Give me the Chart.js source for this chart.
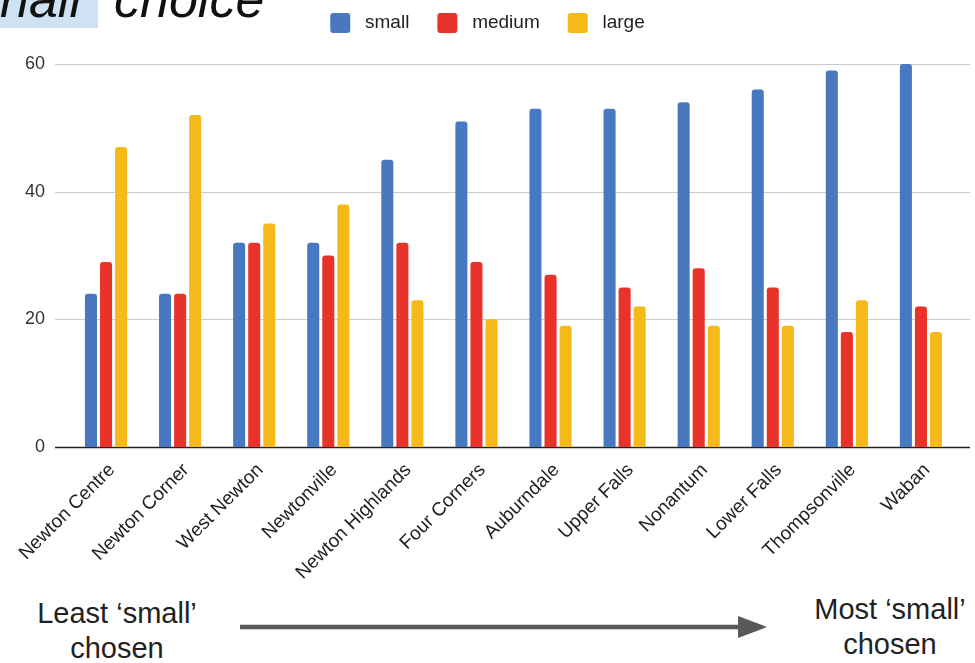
<!DOCTYPE html>
<html>
<head>
<meta charset="utf-8">
<script src="https://cdn.jsdelivr.net/npm/chart.js@4"></script>
<style>
  html, body { margin: 0; padding: 0; background: #fff; }
  body { width: 975px; height: 663px; position: relative; overflow: hidden; font-family: "Liberation Sans", Arial, sans-serif; }
  #wrap { position: absolute; left: 0; top: -15px; width: 975px; height: 602px; }
  .ttl { position: absolute; top: -27px; font-size: 52px; font-style: italic; color: #111; line-height: 1; }
  #hl { position: absolute; left: 0; top: 0; width: 98px; height: 28px; background: #cfe2f3; }
  .note { position: absolute; font-size: 29px; color: #222; text-align: center; line-height: 35px; white-space: nowrap; }
</style>
</head>
<body>
<div id="hl"></div>
<div class="ttl" style="left:0px">hair</div>
<div class="ttl" style="left:114px">choice</div>
<div id="wrap"><canvas id="grafico"></canvas></div>
<div class="note" style="left:17px; top:596px; width:200px">Least ‘small’<br>chosen</div>
<div class="note" style="left:790px; top:592px; width:200px">Most ‘small’<br>chosen</div>
<svg style="position:absolute; left:0; top:0" width="975" height="663">
  <line x1="240" y1="627" x2="740" y2="627" stroke="#595959" stroke-width="4.5"/>
  <polygon points="738,616 767,627 738,638" fill="#595959"/>
</svg>
<script>
// Datos
const barrios = ["Newton Centre", "Newton Corner", "West Newton", "Newtonville", "Newton Highlands",
  "Four Corners", "Auburndale", "Upper Falls", "Nonantum", "Lower Falls", "Thompsonville", "Waban"];
const small  = [24, 24, 32, 32, 45, 51, 53, 53, 54, 56, 59, 60];
const medium = [29, 24, 32, 30, 32, 29, 27, 25, 28, 25, 18, 22];
const large  = [47, 52, 35, 38, 23, 20, 19, 22, 19, 19, 23, 18];
const ticksY = [0, 20, 40, 60];

// lineas de la grilla un poco mas anchas que el area
const grilla = {
  id: "grilla",
  beforeDatasetsDraw(chart) {
    const c = chart.ctx, y = chart.scales.y, a = chart.chartArea;
    c.save();
    ticksY.forEach(v => {
      const py = Math.round(y.getPixelForValue(v)) + 0.5;
      c.beginPath();
      c.strokeStyle = v === 0 ? "#222" : "#cccccc";
      c.lineWidth = v === 0 ? 1.6 : 1;
      c.moveTo(a.left - 14, py);
      c.lineTo(a.right + 12, py);
      c.stroke();
    });
    c.restore();
  }
};

// alto fijo para la leyenda
const altoLeyenda = {
  id: "altoLeyenda",
  beforeInit(chart) {
    if (!chart.legend) return;
    const fitOrig = chart.legend.fit;
    chart.legend.fit = function () {
      fitOrig.bind(chart.legend)();
      this.height = 79;
    };
  }
};

const radio = { topLeft: 3, topRight: 3, bottomLeft: 0, bottomRight: 0 };
const serie = (label, data, color) => ({
  label, data, backgroundColor: color, borderRadius: radio, borderSkipped: false,
  categoryPercentage: 0.61, barPercentage: 0.8
});

new Chart(document.getElementById("grafico"), {
  type: "bar",
  data: {
    labels: barrios,
    datasets: [
      serie("small", small, "#4878c0"),
      serie("medium", medium, "#e8322a"),
      serie("large", large, "#f6b91a")
    ]
  },
  options: {
    responsive: true,
    maintainAspectRatio: false,
    animation: false,
    layout: { padding: { left: 17, right: 17, top: 0, bottom: 0 } },
    plugins: {
      legend: {
        display: true,
        position: "top",
        labels: {
          boxWidth: 20, boxHeight: 20, padding: 28,
          useBorderRadius: true, borderRadius: 3,
          color: "#222",
          font: { family: "Liberation Sans", size: 19 },
          generateLabels(chart) {
            const items = Chart.defaults.plugins.legend.labels.generateLabels(chart);
            items.forEach(it => { it.text = " " + it.text; it.lineWidth = 0; });
            return items;
          }
        }
      },
      tooltip: { enabled: false }
    },
    scales: {
      x: {
        grid: { display: false, drawTicks: false },
        border: { display: false },
        afterFit(s) { s.paddingLeft = 0; s.paddingRight = 0; s.height = 140; },
        ticks: {
          minRotation: 45, maxRotation: 45, padding: 12, labelOffset: 6,
          color: "#222",
          font: { family: "Liberation Sans", size: 19 }
        }
      },
      y: {
        min: 0, max: 60,
        grid: { display: false, drawTicks: false },
        border: { display: false },
        afterFit(s) { s.width = 52; },
        ticks: {
          stepSize: 20, padding: 24,
          color: "#333",
          font: { family: "Liberation Sans", size: 18 }
        }
      }
    }
  },
  plugins: [grilla, altoLeyenda]
});
</script>
</body>
</html>
